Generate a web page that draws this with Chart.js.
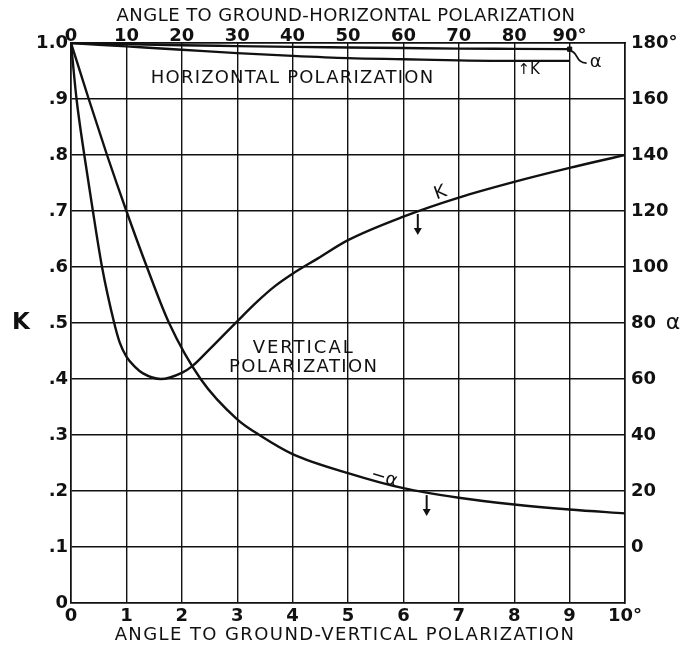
<!DOCTYPE html>
<html>
<head>
<meta charset="utf-8">
<script src="https://cdn.jsdelivr.net/npm/chart.js@4"></script>
<style>
  body { margin: 0; background: #fff; }
  #wrap { width: 694px; height: 647px; }
</style>
</head>
<body>
<div id="wrap"><canvas id="ktchart"></canvas></div>
<script>
// vertical polarization, bottom axis (degrees 0-10)
var vertKAngles = [0, 0.1, 0.24, 0.37, 0.56, 0.78, 0.88, 1.0, 1.15, 1.3, 1.62, 2.0, 2.19, 2.49, 3.0, 3.37, 3.67, 4.0, 4.45, 5, 6, 7, 8, 9, 10];
var vertKValues = [1.0, 0.9, 0.8, 0.716, 0.6, 0.5, 0.465, 0.44, 0.422, 0.41, 0.40, 0.411, 0.423, 0.452, 0.503, 0.539, 0.565, 0.588, 0.615, 0.648, 0.690, 0.724, 0.752, 0.777, 0.80];

var vertAlphaAngles = [0, 0.32, 0.65, 1.0, 1.37, 1.77, 2.34, 3.0, 3.45, 4.0, 5, 6, 7, 8, 9, 10];
var vertAlphaValues = [180, 160, 140, 120, 100, 80, 60, 45.6, 39.4, 33.2, 26.4, 21, 17.6, 15.2, 13.4, 12];

// horizontal polarization, top axis (degrees 0-90)
var horAngles = [0, 10, 20, 30, 40, 50, 60, 70, 80, 90];
var horKValues = [1.0, 0.994, 0.988, 0.982, 0.977, 0.973, 0.971, 0.969, 0.968, 0.968];
var horAlphaValues = [180, 179.6, 179.2, 178.9, 178.6, 178.4, 178.2, 178.0, 177.9, 177.8];

var ink = "#111";
var fam = "'DejaVu Sans', sans-serif";

function pts(xs, ys) {
  return xs.map(function (x, i) { return { x: x, y: ys[i] }; });
}

var notes = {
  id: "notes",
  afterDatasetsDraw: function (chart) {
    var ctx = chart.ctx, x = chart.scales.x, y = chart.scales.y;
    function text(txt, px, py, font, spacing, rot) {
      ctx.save();
      ctx.translate(px, py);
      if (rot) ctx.rotate(rot);
      ctx.font = font;
      ctx.letterSpacing = (spacing || 0) + "px";
      ctx.fillStyle = ink;
      ctx.textAlign = "center";
      ctx.textBaseline = "middle";
      ctx.fillText(txt, 0, 0);
      ctx.restore();
    }
    function put(txt, vx, vy, size, spacing, rot) {
      text(txt, x.getPixelForValue(vx), y.getPixelForValue(vy), size + "px " + fam, spacing, rot);
    }
    function arrow(vx, vy) {
      var px = x.getPixelForValue(vx), py = y.getPixelForValue(vy);
      ctx.save();
      ctx.strokeStyle = ink; ctx.fillStyle = ink; ctx.lineWidth = 2;
      ctx.beginPath(); ctx.moveTo(px, py - 11); ctx.lineTo(px, py + 4); ctx.stroke();
      ctx.beginPath(); ctx.moveTo(px - 4, py + 3); ctx.lineTo(px + 4, py + 3); ctx.lineTo(px, py + 10); ctx.closePath(); ctx.fill();
      ctx.restore();
    }
    // axis titles
    text("ANGLE TO GROUND-HORIZONTAL POLARIZATION", 346, 16, "18px " + fam, 0.45);
    text("ANGLE TO GROUND-VERTICAL POLARIZATION", 345, 635, "18px " + fam, 1.4);
    text("K", 21, y.getPixelForValue(0.5), "bold 23px " + fam, 0);
    text("α", 673, y.getPixelForValue(0.5), "22px " + fam, 0);

    put("HORIZONTAL POLARIZATION", 4.0, 0.9375, 18, 1.2);
    put("VERTICAL", 4.2, 0.455, 18, 2);
    put("POLARIZATION", 4.2, 0.421, 18, 1.4);
    put("K", 6.67, 0.732, 18, 0, -0.35);
    arrow(6.26, 0.675);
    put("−α", 5.65, 0.223, 18, 0, 0.3);
    arrow(6.42, 0.173);
    put("↑K", 8.26, 0.952, 15, 0);
    put("α", 9.47, 0.965, 18, 0);
    // hook from the alpha curve end to its letter
    var hx = chart.scales.x2.getPixelForValue(90), hy = chart.scales.y2.getPixelForValue(177.8);
    ctx.save();
    ctx.strokeStyle = ink; ctx.lineWidth = 1.8;
    ctx.beginPath();
    ctx.moveTo(hx + 1, hy + 2);
    ctx.bezierCurveTo(hx + 8, hy + 2, hx + 6, hy + 14, hx + 17, hy + 14);
    ctx.stroke();
    ctx.restore();
  }
};

new Chart("ktchart", {
  type: "line",
  data: {
    datasets: [{
      data: pts(vertKAngles, vertKValues),
      xAxisID: "x", yAxisID: "y"
    }, {
      data: pts(vertAlphaAngles, vertAlphaValues),
      xAxisID: "x", yAxisID: "y2"
    }, {
      data: pts(horAngles, horKValues),
      xAxisID: "x2", yAxisID: "y"
    }, {
      data: pts(horAngles, horAlphaValues),
      xAxisID: "x2", yAxisID: "y2",
      pointRadius: [0, 0, 0, 0, 0, 0, 0, 0, 0, 3],
      pointStyle: "rect",
      pointBackgroundColor: ink
    }]
  },
  options: {
    responsive: true,
    maintainAspectRatio: false,
    animation: false,
    layout: { padding: 0 },
    elements: {
      line: { borderColor: ink, borderWidth: 2.4, cubicInterpolationMode: "monotone", fill: false },
      point: { radius: 0, borderColor: ink }
    },
    plugins: { legend: { display: false }, tooltip: { enabled: false } },
    scales: {
      x: {
        type: "linear", position: "bottom", min: 0, max: 10,
        ticks: {
          stepSize: 1, padding: 3, color: ink, maxRotation: 0,
          font: { family: fam, size: 18, weight: "bold" },
          callback: function (v) { return v === 10 ? "10°" : v; }
        },
        grid: { color: ink, lineWidth: 1.4, drawTicks: false },
        border: { color: ink, width: 1.6 },
        afterFit: function (s) { s.height = 44; }
      },
      x2: {
        type: "linear", position: "top", min: 0, max: 100,
        ticks: {
          stepSize: 10, padding: -4, color: ink, maxRotation: 0,
          font: { family: fam, size: 18, weight: "bold" },
          callback: function (v) { return v === 100 ? "" : (v === 90 ? "90°" : v); }
        },
        grid: { display: false, drawTicks: false },
        border: { color: ink, width: 1.6 },
        afterFit: function (s) { s.height = 43; }
      },
      y: {
        type: "linear", position: "left", min: 0, max: 1,
        ticks: {
          stepSize: 0.1, padding: 3, color: ink,
          font: { family: fam, size: 18, weight: "bold" },
          callback: function (v) {
            if (v === 0) return "0";
            if (Math.abs(v - 1) < 1e-6) return "1.0";
            return "." + Math.round(v * 10);
          }
        },
        grid: { color: ink, lineWidth: 1.4, drawTicks: false },
        border: { color: ink, width: 1.6 },
        afterFit: function (s) { s.width = 71; }
      },
      y2: {
        type: "linear", position: "right", min: -20, max: 180,
        ticks: {
          stepSize: 20, padding: 6, color: ink,
          font: { family: fam, size: 18, weight: "bold" },
          callback: function (v) { return v < 0 ? "" : (v === 180 ? "180°" : v); }
        },
        grid: { display: false, drawTicks: false },
        border: { color: ink, width: 1.6 },
        afterFit: function (s) { s.width = 69; }
      }
    }
  },
  plugins: [notes]
});
</script>
</body>
</html>
